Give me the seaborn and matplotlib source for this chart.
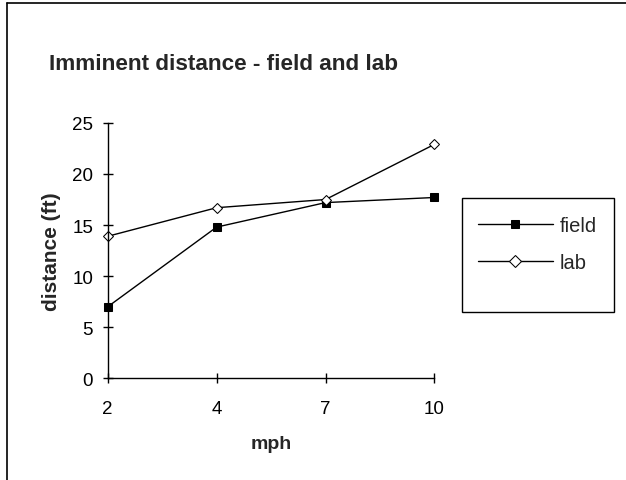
import pandas as pd
import seaborn as sns
import matplotlib.pyplot as plt
from matplotlib.lines import Line2D
from matplotlib.patches import Rectangle

mph = ['2', '4', '7', '10']
field = [7.0, 14.8, 17.2, 17.7]
lab = [13.9, 16.7, 17.5, 22.9]

df = pd.DataFrame({
    'mph': mph * 2,
    'distance': field + lab,
    'series': ['field'] * 4 + ['lab'] * 4,
})

sns.set_style('white')
plt.rcParams['font.family'] = ['Liberation Sans', 'DejaVu Sans']

W, H = 626, 481
fig = plt.figure(figsize=(W / 100, H / 100), dpi=100)
ax = fig.add_axes([0.172, 0.2114, 0.522, 0.531])

sns.lineplot(data=df, x='mph', y='distance', hue='series', style='series',
             palette={'field': 'black', 'lab': 'black'},
             markers={'field': 's', 'lab': 'D'}, dashes=False,
             linewidth=1, markersize=6, ax=ax)

# marker faces: filled square, hollow diamond; let edge markers overhang
for line in ax.lines:
    line.set_clip_on(False)
    if line.get_marker() == 'D':
        line.set_markerfacecolor('white')
        line.set_markeredgecolor('black')
        line.set_markersize(5.5)
    else:
        line.set_markerfacecolor('black')
        line.set_markeredgecolor('black')

ax.set_xlim(0, 3)
ax.set_ylim(0, 25)
ax.set_yticks([0, 5, 10, 15, 20, 25])
for side in ['top', 'right']:
    ax.spines[side].set_visible(False)
for side in ['left', 'bottom']:
    ax.spines[side].set_color('black')
    ax.spines[side].set_linewidth(1)
ax.tick_params(direction='inout', length=7, width=1, colors='black',
               labelsize=13.5, left=True, bottom=True)
ax.tick_params(axis='x', pad=12)
ax.tick_params(axis='y', pad=7)
ax.set_xlabel('mph', fontsize=14, fontweight='bold', labelpad=13)
ax.set_ylabel('distance (ft)', fontsize=15, fontweight='bold', labelpad=8)

fig.text(0.078, 0.865, 'Imminent distance - field and lab',
         fontsize=16.2, fontweight='bold', ha='left', va='center')

handles, labels = ax.get_legend_handles_labels()
for h in handles:
    h.set_markersize(6)
ax.legend(handles, labels, loc='upper left',
          bbox_to_anchor=(478 / W, 1 - 217 / H),
          bbox_transform=fig.transFigure, fontsize=14.5, frameon=False,
          handlelength=3.7, handletextpad=0.35, labelspacing=0.9,
          borderpad=0, borderaxespad=0)
# legend box, drawn larger than the entries as in the original
fig.add_artist(Rectangle((462 / W, 1 - 313 / H), 152 / W, 114 / H, fill=False,
                         ec='black', lw=1, transform=fig.transFigure))

# chart area border (top and left edges visible)
fig.add_artist(Line2D([0.011, 1.0], [0.992, 0.992], color='black', lw=1.2,
                      transform=fig.transFigure))
fig.add_artist(Line2D([0.011, 0.011], [0.0, 0.992], color='black', lw=1.2,
                      transform=fig.transFigure))

fig.savefig('out.png', dpi=100)
